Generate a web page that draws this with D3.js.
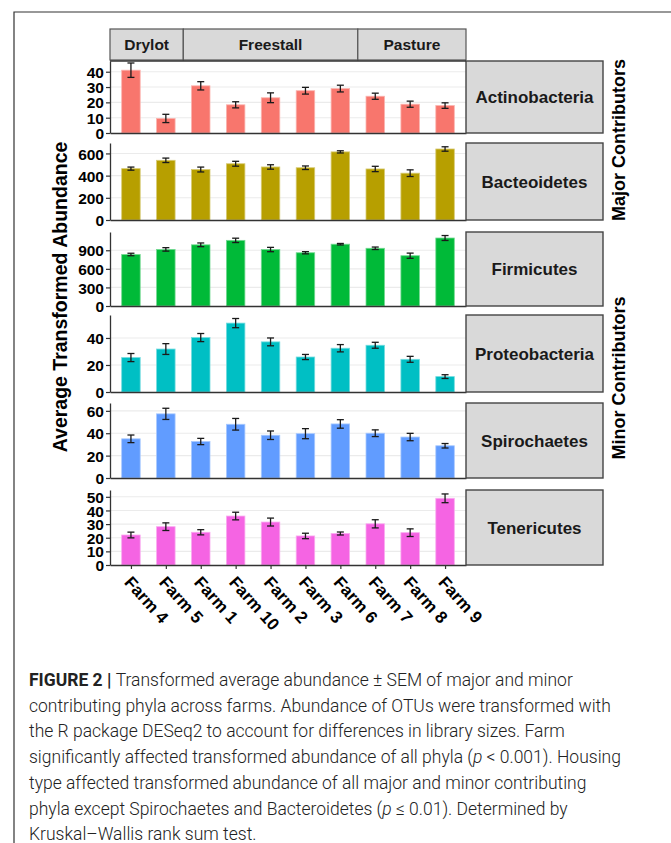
<!DOCTYPE html>
<html>
<head>
<meta charset="utf-8">
<script src="https://cdnjs.cloudflare.com/ajax/libs/d3/7.8.5/d3.min.js"></script>
<style>
  body { margin: 0; background: #fff; }
  svg { display: block; }
</style>
</head>
<body>
<svg id="chart" width="671" height="843"></svg>
<script>
// Farms in plotted order, with the housing type of each
const farms = ["Farm 4", "Farm 5", "Farm 1", "Farm 10", "Farm 2", "Farm 3", "Farm 6", "Farm 7", "Farm 8", "Farm 9"];
const housing = ["Drylot", "Drylot", "Freestall", "Freestall", "Freestall", "Freestall", "Freestall", "Pasture", "Pasture", "Pasture"];

const phyla = ["Actinobacteria", "Bacteoidetes", "Firmicutes", "Proteobacteria", "Spirochaetes", "Tenericutes"];
const phylaColors = ["#F8766D", "#B79F00", "#00BA38", "#00BFC4", "#619CFF", "#F564E3"];

// Mean and SEM per farm
const actinoMean = [41, 9.5, 30.8, 18.4, 23, 27.6, 29, 24, 18.8, 17.9];
const actinoSem = [4.7, 2.7, 2.7, 2, 3.2, 2.2, 2.2, 2, 2, 1.8];
const bacteoMean = [463, 538, 455, 507, 478, 471, 614, 460, 422, 640];
const bacteoSem = [14, 20, 22, 22, 20, 16, 10, 24, 30, 20];
const firmMean = [832, 914, 988, 1060, 912, 860, 998, 932, 812, 1098];
const firmSem = [20, 28, 30, 35, 35, 18, 12, 20, 42, 40];
const proteoMean = [25.5, 31.8, 40.3, 51, 37.1, 25.9, 32.4, 34.6, 24.2, 11.4];
const proteoSem = [3, 4, 3, 3.4, 2.9, 1.9, 2.7, 2.2, 2.2, 1.4];
const spiroMean = [35, 57.3, 32.6, 48, 38.2, 39.6, 48.3, 40, 36.6, 28.8];
const spiroSem = [3.4, 5, 2.8, 5.2, 3.8, 4.5, 3.8, 3, 3.3, 2];
const teneMean = [22, 28.1, 24, 35.9, 31.5, 21.3, 23.1, 30.2, 23.7, 48.9];
const teneSem = [2.1, 2.8, 1.9, 2.8, 2.9, 2, 1.1, 3, 2.8, 3.2];

const means = [actinoMean, bacteoMean, firmMean, proteoMean, spiroMean, teneMean];
const sems = [actinoSem, bacteoSem, firmSem, proteoSem, spiroSem, teneSem];

// y axis: top of each panel's domain and tick values
const yTops = [47, 694, 1195, 57, 67, 55];
const yTicks = [[0, 10, 20, 30, 40], [0, 200, 400, 600], [0, 300, 600, 900], [0, 20, 40], [0, 20, 40, 60], [0, 10, 20, 30, 40, 50]];

const groupLabels = ["Major Contributors", "Minor Contributors"];

const captionLines = [
  "Transformed average abundance \u00B1 SEM of major and minor",
  "contributing phyla across farms. Abundance of OTUs were transformed with",
  "the R package DESeq2 to account for differences in library sizes. Farm",
  "significantly affected transformed abundance of all phyla (|p| < 0.001). Housing",
  "type affected transformed abundance of all major and minor contributing",
  "phyla except Spirochaetes and Bacteroidetes (|p| \u2264 0.01). Determined by",
  "Kruskal\u2013Wallis rank sum test."
];

// Layout
const panelLeft = 110, panelRight = 466, stripRight = 603;
const panelTops = [61, 143, 232, 315, 403, 490];
const panelBottoms = [133, 220, 306, 392, 478, 565];
const groupLabelCenters = [140, 378];
const font = "'Liberation Sans', Arial, sans-serif";
const barWidth = 18.5;

const svg = d3.select("#chart");

// Figure frame (top and left only)
svg.append("path")
  .attr("d", "M14,843 L14,12 L671,12")
  .attr("fill", "none")
  .attr("stroke", "#333")
  .attr("stroke-width", 1.2);

const x = d3.scalePoint()
  .domain(farms)
  .range([panelLeft, panelRight])
  .padding(0.6);

// Housing strip on top
const housingGroups = [];
housing.forEach((h, i) => {
  const last = housingGroups[housingGroups.length - 1];
  if (last && last.name === h) last.end = i;
  else housingGroups.push({ name: h, start: i, end: i });
});
const step = x.step();
const stripG = svg.append("g");
housingGroups.forEach(g => {
  const x0 = g.start === 0 ? panelLeft : x(farms[g.start]) - step / 2;
  const x1 = g.end === farms.length - 1 ? panelRight : x(farms[g.end]) + step / 2;
  stripG.append("rect")
    .attr("x", x0).attr("y", 29)
    .attr("width", x1 - x0).attr("height", 31)
    .attr("fill", "#d9d9d9")
    .attr("stroke", "#555")
    .attr("stroke-width", 1.2);
  stripG.append("text")
    .attr("x", (x0 + x1) / 2).attr("y", 50)
    .attr("text-anchor", "middle")
    .attr("font-family", font)
    .attr("font-weight", "bold")
    .attr("font-size", 15.5)
    .attr("fill", "#1a1a1a")
    .text(g.name);
});

// Panels
phyla.forEach((name, p) => {
  const top = panelTops[p], bottom = panelBottoms[p];
  const y = d3.scaleLinear().domain([0, yTops[p]]).range([bottom, top]);
  const g = svg.append("g");
  const rows = farms.map((f, i) => ({ farm: f, mean: means[p][i], sem: sems[p][i] }));

  // gridlines
  g.selectAll(".grid")
    .data(yTicks[p].filter(t => t > 0))
    .join("line")
    .attr("x1", panelLeft).attr("x2", panelRight)
    .attr("y1", d => y(d)).attr("y2", d => y(d))
    .attr("stroke", "#ebebeb")
    .attr("stroke-width", 1.1);

  // bars
  const fill = phylaColors[p];
  g.selectAll(".bar")
    .data(rows)
    .join("rect")
    .attr("x", d => x(d.farm) - barWidth / 2)
    .attr("y", d => y(d.mean))
    .attr("width", barWidth)
    .attr("height", d => y(0) - y(d.mean))
    .attr("fill", fill)
    .attr("stroke", d3.interpolateRgb(fill, "#ffffff")(0.45))
    .attr("stroke-width", 0.8);

  // error bars
  const cap = 3.5;
  const err = g.selectAll(".err").data(rows).join("g").attr("stroke", "#1a1a1a").attr("stroke-width", 1.3);
  err.append("line")
    .attr("x1", d => x(d.farm)).attr("x2", d => x(d.farm))
    .attr("y1", d => y(d.mean + d.sem)).attr("y2", d => y(d.mean - d.sem));
  err.append("line")
    .attr("x1", d => x(d.farm) - cap).attr("x2", d => x(d.farm) + cap)
    .attr("y1", d => y(d.mean + d.sem)).attr("y2", d => y(d.mean + d.sem));
  err.append("line")
    .attr("x1", d => x(d.farm) - cap).attr("x2", d => x(d.farm) + cap)
    .attr("y1", d => y(d.mean - d.sem)).attr("y2", d => y(d.mean - d.sem));

  // y axis
  const yAxis = g.append("g")
    .attr("transform", `translate(${panelLeft},0)`)
    .call(d3.axisLeft(y).tickValues(yTicks[p]).tickSize(4).tickPadding(2).tickSizeOuter(0));
  yAxis.select(".domain").attr("stroke", "#333").attr("stroke-width", 1.3);
  yAxis.selectAll(".tick line").attr("stroke", "#333").attr("stroke-width", 1.2);
  yAxis.selectAll(".tick text")
    .attr("font-family", font)
    .attr("font-weight", "bold")
    .attr("font-size", 15.5)
    .attr("dy", "0.36em")
    .attr("fill", "#000");

  // x axis line (ticks and labels only on the bottom panel)
  const isLast = p === phyla.length - 1;
  const xAxis = g.append("g")
    .attr("transform", `translate(0,${bottom})`)
    .call(d3.axisBottom(x).tickSize(isLast ? 4 : 0).tickSizeOuter(0).tickFormat(isLast ? null : ""));
  xAxis.select(".domain").attr("stroke", "#333").attr("stroke-width", 1.3);
  xAxis.selectAll(".tick line").attr("stroke", "#333").attr("stroke-width", 1.2);
  if (isLast) {
    xAxis.selectAll(".tick text")
      .attr("font-family", font)
      .attr("font-weight", "bold")
      .attr("font-size", 17)
      .attr("fill", "#000")
      .attr("text-anchor", "start")
      .attr("dy", 0)
      .attr("y", 0)
      .attr("transform", "translate(-8,18) rotate(48)");
  } else {
    xAxis.selectAll(".tick text").remove();
  }

  // facet label on the right
  g.append("rect")
    .attr("x", panelRight).attr("y", top)
    .attr("width", stripRight - panelRight).attr("height", bottom - top)
    .attr("fill", "#d9d9d9")
    .attr("stroke", "#444")
    .attr("stroke-width", 1.4);
  g.append("text")
    .attr("x", (panelRight + stripRight) / 2)
    .attr("y", (top + bottom) / 2 + 6)
    .attr("text-anchor", "middle")
    .attr("font-family", font)
    .attr("font-weight", "bold")
    .attr("font-size", 17)
    .attr("fill", "#1a1a1a")
    .text(name);
});

// Panel 1 top border under the strip
svg.append("line")
  .attr("x1", panelLeft).attr("x2", panelRight)
  .attr("y1", panelTops[0]).attr("y2", panelTops[0])
  .attr("stroke", "#333").attr("stroke-width", 1.3);

// Axis title
svg.append("text")
  .attr("transform", `translate(67,297) rotate(-90)`)
  .attr("text-anchor", "middle")
  .attr("font-family", font)
  .attr("font-weight", "bold")
  .attr("font-size", 19.5)
  .attr("fill", "#000")
  .text("Average Transformed Abundance");

// Group labels on the far right
groupLabels.forEach((label, i) => {
  svg.append("text")
    .attr("transform", `translate(625,${groupLabelCenters[i]}) rotate(-90)`)
    .attr("text-anchor", "middle")
    .attr("font-family", font)
    .attr("font-weight", "bold")
    .attr("font-size", 18)
    .attr("fill", "#000")
    .text(label);
});

// Caption
const caption = svg.append("g")
  .attr("font-family", "Roboto, 'Liberation Sans', sans-serif")
  .attr("font-size", 17.5)
  .attr("fill", "#222");
captionLines.forEach((line, i) => {
  const t = caption.append("text")
    .attr("x", 29)
    .attr("y", 686 + i * 25.7)
    .attr("font-weight", 300);
  if (i === 0) {
    t.append("tspan").attr("font-weight", 700).text("FIGURE 2 | ");
  }
  line.split("|").forEach((part, k) => {
    const s = t.append("tspan").text(part);
    if (k % 2 === 1) s.attr("font-style", "italic");
  });
});
</script>
</body>
</html>
